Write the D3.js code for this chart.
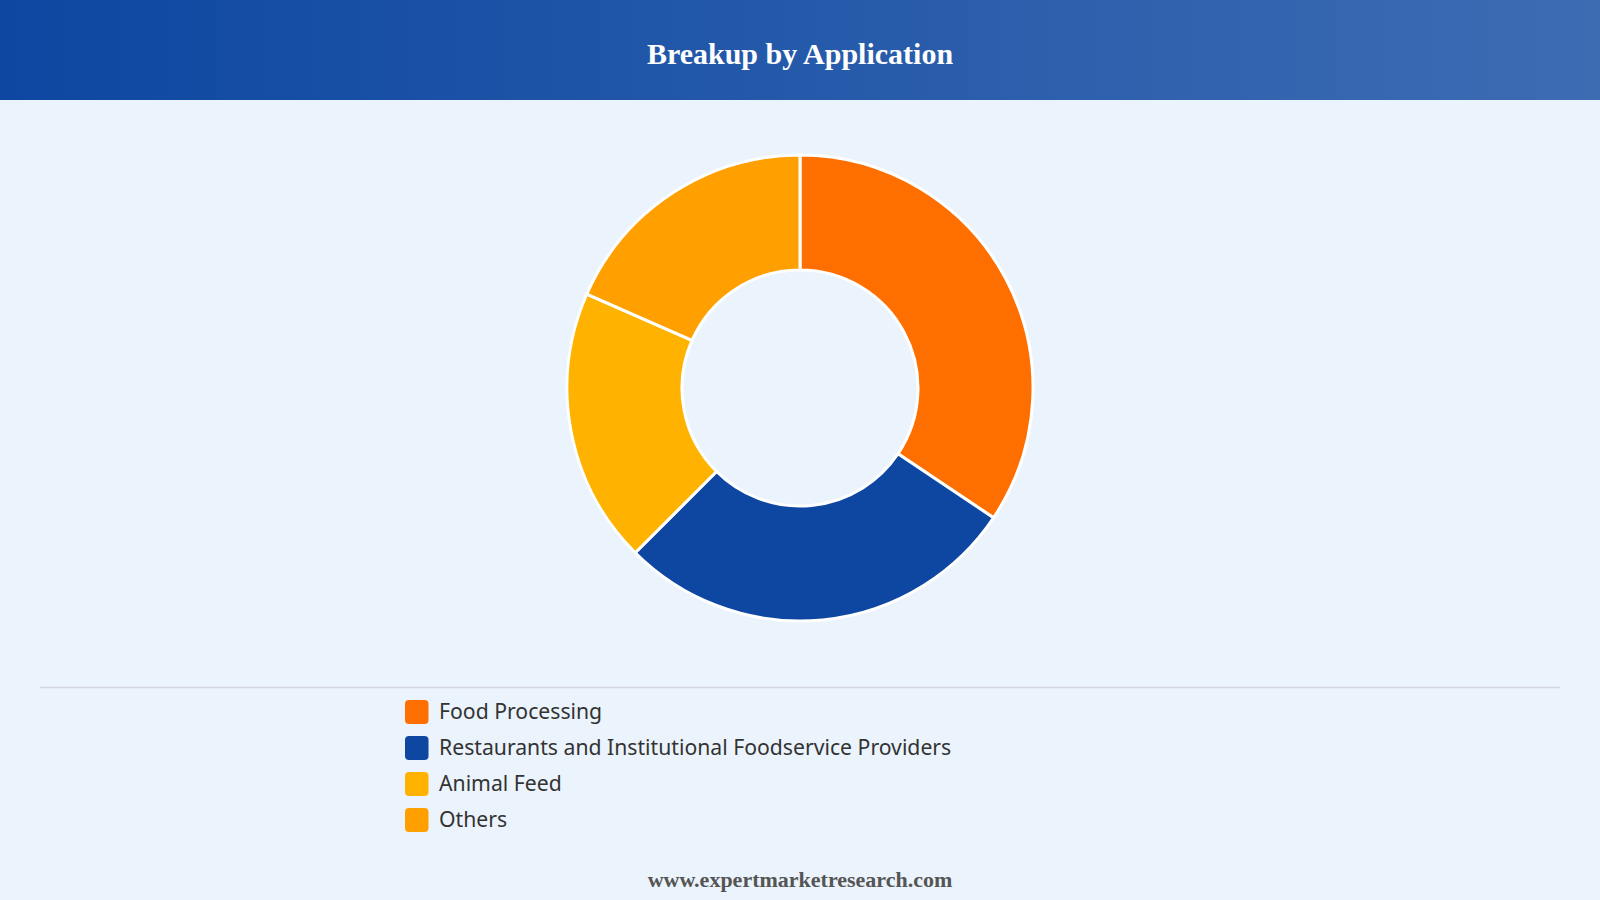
<!DOCTYPE html>
<html>
<head>
<meta charset="utf-8">
<script src="https://cdn.jsdelivr.net/npm/d3@7"></script>
<style>
  html, body { margin: 0; padding: 0; background: #EBF3FC; }
  svg { display: block; }
</style>
</head>
<body>
<svg id="chart" width="1600" height="900"></svg>
<script>
const title = "Breakup by Application";
const footer = "www.expertmarketresearch.com";
const categories = ["Food Processing", "Restaurants and Institutional Foodservice Providers", "Animal Feed", "Others"];
const values = [34.4, 28.1, 19.1, 18.4];
const colors = ["#FF6F00", "#0D47A1", "#FFB300", "#FFA000"];

const W = 1600, H = 900;
const svg = d3.select("#chart");

// background
svg.append("rect").attr("width", W).attr("height", H).attr("fill", "#EBF3FC");

// header gradient
const defs = svg.append("defs");
const grad = defs.append("linearGradient").attr("id", "hdr").attr("x1", "0%").attr("x2", "100%");
grad.append("stop").attr("offset", "0%").attr("stop-color", "#0D47A1");
grad.append("stop").attr("offset", "100%").attr("stop-color", "#3D6CB3");
svg.append("rect").attr("width", W).attr("height", 100).attr("fill", "url(#hdr)");
svg.append("text").attr("x", W / 2).attr("y", 64).attr("text-anchor", "middle")
  .attr("font-family", "Liberation Serif, Times New Roman, serif").attr("font-weight", "bold")
  .attr("font-size", 30).attr("fill", "#fff").text(title);

// donut
const cx = 800, cy = 388, rOuter = 233, rInner = 118;
const pie = d3.pie().sort(null).value(d => d.value);
const arc = d3.arc().innerRadius(rInner).outerRadius(rOuter);
const data = categories.map((c, i) => ({ name: c, value: values[i], color: colors[i] }));
svg.append("g").attr("transform", `translate(${cx},${cy})`)
  .selectAll("path").data(pie(data)).join("path")
  .attr("d", arc).attr("fill", d => d.data.color)
  .attr("stroke", "#fff").attr("stroke-width", 3).attr("stroke-linejoin", "round");

// separator line
svg.append("line").attr("x1", 40).attr("x2", 1560).attr("y1", 687.5).attr("y2", 687.5)
  .attr("stroke", "#D4D8DE").attr("stroke-width", 1.5);

// legend
const ly = d3.scaleBand().domain(categories).range([694, 838]);
const lg = svg.append("g").selectAll("g").data(data).join("g")
  .attr("transform", d => `translate(405,${ly(d.name)})`);
lg.append("rect").attr("x", 0).attr("y", ly.bandwidth() / 2 - 12).attr("width", 23.5).attr("height", 24)
  .attr("rx", 4).attr("fill", d => d.color);
lg.append("text").attr("x", 34).attr("y", ly.bandwidth() / 2).attr("dy", "0.35em")
  .attr("font-family", "Noto Sans, Open Sans, sans-serif").attr("font-size", 21.2)
  .attr("fill", "#333").text(d => d.name);

// footer
svg.append("text").attr("x", W / 2).attr("y", 887).attr("text-anchor", "middle")
  .attr("font-family", "Liberation Serif, Times New Roman, serif").attr("font-weight", "bold")
  .attr("font-size", 22).attr("fill", "#555").text(footer);
</script>
</body>
</html>
